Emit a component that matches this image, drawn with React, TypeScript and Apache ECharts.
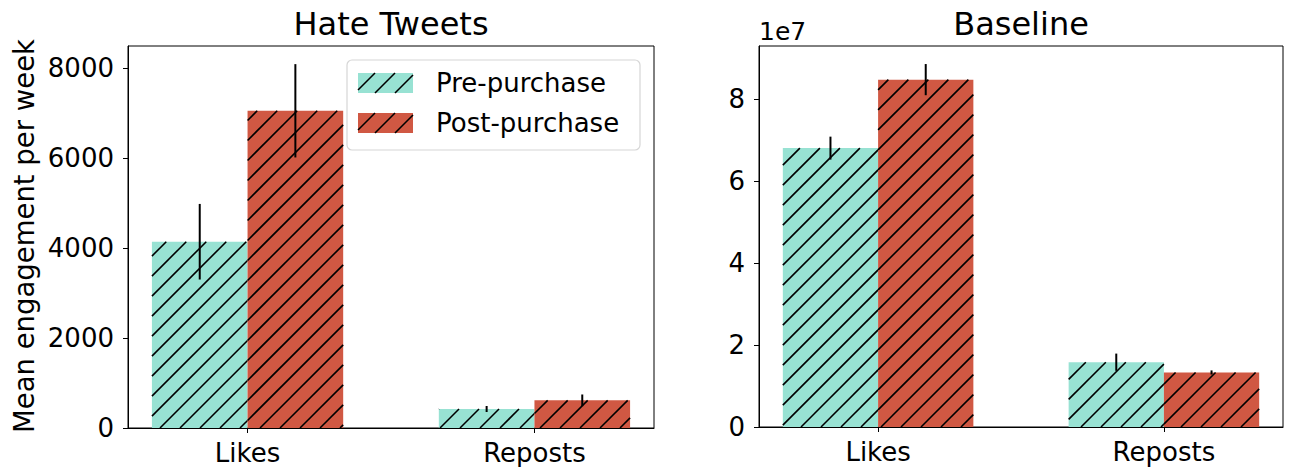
import React, { useEffect, useRef } from "react";
import * as echarts from "echarts";

// ---- data ----
const CATEGORIES = ["Likes", "Reposts"];
const GROUPS = ["Pre-purchase", "Post-purchase"];

const HATE_PRE = [4140, 422];
const HATE_PRE_ERR = [840, 67];
const HATE_POST = [7050, 615];
const HATE_POST_ERR = [1037, 130];

const BASE_PRE = [6.8e7, 1.58e7];
const BASE_PRE_ERR = [0.28e7, 0.21e7];
const BASE_POST = [8.47e7, 1.33e7];
const BASE_POST_ERR = [0.38e7, 0.05e7];

const HATE_TICKS = [0, 2000, 4000, 6000, 8000];
const BASE_TICKS = [0, 2e7, 4e7, 6e7, 8e7];

const PANEL_TITLES = ["Hate Tweets", "Baseline"];
const Y_LABEL = "Mean engagement per week";
const BASE_EXPONENT = "1e7";

// ---- style ----
const FONT = "DejaVu Sans";
const PRE_COLOR = "#98e2d3";
const POST_COLOR = "#d05843";
const BAR_W = 1 / 3;
const X_MIN = -0.4167;
const X_MAX = 1.4167;
const HATCH_STEP = 20;
const HATCH_PHASE = 8;

// diagonal "/" hatch lines clipped to a rectangle, anchored to the page
function hatch(L: number, T: number, R: number, B: number) {
  const out: any[] = [];
  const start = Math.ceil((L + T - HATCH_PHASE) / HATCH_STEP) * HATCH_STEP + HATCH_PHASE;
  for (let c = start; c <= R + B; c += HATCH_STEP) {
    const xa = Math.max(L, c - B);
    const xb = Math.min(R, c - T);
    if (xb > xa) {
      out.push({
        type: "line",
        shape: { x1: xa, y1: c - xa, x2: xb, y2: c - xb },
        style: { stroke: "#000", lineWidth: 1.6 },
      });
    }
  }
  return out;
}

function barSeries(
  name: string,
  idx: number,
  values: number[],
  errs: number[],
  offset: number,
  color: string
) {
  return {
    type: "custom",
    name,
    xAxisIndex: idx,
    yAxisIndex: idx,
    data: values.map((v, i) => [i, v, errs[i]]),
    encode: { x: 0, y: 1 },
    renderItem: (_params: any, api: any) => {
      const i = api.value(0);
      const v = api.value(1);
      const e = api.value(2);
      const x0 = i + offset;
      const a = api.coord([x0, 0]);
      const b = api.coord([x0 + BAR_W, v]);
      const L = a[0],
        R = b[0],
        T = b[1],
        B = a[1];
      const lo = api.coord([x0 + BAR_W / 2, v - e]);
      const hi = api.coord([x0 + BAR_W / 2, v + e]);
      return {
        type: "group",
        children: [
          {
            type: "rect",
            shape: { x: L, y: T, width: R - L, height: B - T },
            style: { fill: color },
          },
          ...hatch(L, T, R, B),
          {
            type: "line",
            shape: { x1: lo[0], y1: lo[1], x2: hi[0], y2: hi[1] },
            style: { stroke: "#000", lineWidth: 2 },
          },
        ],
      };
    },
  };
}

const GRIDS = [
  { left: 128, top: 46, width: 526, height: 382 },
  { left: 759, top: 46, width: 524, height: 381 },
];

const AXIS_LINE = { show: true, onZero: false, lineStyle: { color: "#000", width: 1 } };

function xAxis(idx: number) {
  return {
    type: "value",
    gridIndex: idx,
    min: X_MIN,
    max: X_MAX,
    splitLine: { show: false },
    axisLine: AXIS_LINE,
    axisTick: {
      show: true,
      customValues: [0, 1],
      length: 5,
      lineStyle: { color: "#000", width: 1 },
    },
    axisLabel: {
      customValues: [0, 1],
      formatter: (v: number) => CATEGORIES[Math.round(v)],
      fontFamily: FONT,
      fontSize: 26,
      color: "#000",
      margin: 12,
    },
  };
}

function yAxis(idx: number, max: number, ticks: number[], fmt: (v: number) => string) {
  return {
    type: "value",
    gridIndex: idx,
    min: 0,
    max,
    splitLine: { show: false },
    axisLine: AXIS_LINE,
    axisTick: {
      show: true,
      customValues: ticks,
      length: 5,
      lineStyle: { color: "#000", width: 1 },
    },
    axisLabel: {
      customValues: ticks,
      formatter: fmt,
      fontFamily: FONT,
      fontSize: 26,
      color: "#000",
      margin: 14,
    },
  };
}

function legendGraphics() {
  const items: any[] = [
    {
      type: "rect",
      shape: { x: 347, y: 60, width: 293, height: 90, r: 5 },
      style: { fill: "rgba(255,255,255,0.8)", stroke: "#d6d6d6", lineWidth: 1.2 },
    },
  ];
  const colors = [PRE_COLOR, POST_COLOR];
  GROUPS.forEach((g, k) => {
    const T = 73 + k * 40;
    items.push({
      type: "rect",
      shape: { x: 358, y: T, width: 55, height: 20 },
      style: { fill: colors[k] },
    });
    hatch(358, T, 413, T + 20).forEach((l) => items.push(l));
    items.push({
      type: "text",
      x: 436,
      y: T + 10,
      style: {
        text: g,
        fontFamily: FONT,
        fontSize: 26,
        fill: "#000",
        align: "left",
        verticalAlign: "middle",
      },
    });
  });
  return items;
}

export default function App() {
  const ref = useRef<HTMLDivElement>(null);

  useEffect(() => {
    if (!ref.current) return;
    const chart = echarts.init(ref.current, null, { renderer: "svg" });
    chart.setOption({
      animation: false,
      backgroundColor: "#fff",
      grid: GRIDS.map((g) => ({
        ...g,
        show: true,
        borderColor: "#000",
        borderWidth: 1,
        backgroundColor: "transparent",
        containLabel: false,
      })),
      xAxis: [xAxis(0), xAxis(1)],
      yAxis: [
        yAxis(0, 8490, HATE_TICKS, (v) => String(v)),
        yAxis(1, 9.29e7, BASE_TICKS, (v) => String(Math.round(v / 1e7))),
      ],
      series: [
        barSeries(GROUPS[0], 0, HATE_PRE, HATE_PRE_ERR, -BAR_W, PRE_COLOR),
        barSeries(GROUPS[1], 0, HATE_POST, HATE_POST_ERR, 0, POST_COLOR),
        barSeries(GROUPS[0], 1, BASE_PRE, BASE_PRE_ERR, -BAR_W, PRE_COLOR),
        barSeries(GROUPS[1], 1, BASE_POST, BASE_POST_ERR, 0, POST_COLOR),
      ],
      graphic: [
        {
          type: "text",
          x: 391,
          y: 24,
          style: {
            text: PANEL_TITLES[0],
            fontFamily: FONT,
            fontSize: 32,
            fill: "#000",
            align: "center",
            verticalAlign: "middle",
          },
        },
        {
          type: "text",
          x: 1021,
          y: 24,
          style: {
            text: PANEL_TITLES[1],
            fontFamily: FONT,
            fontSize: 32,
            fill: "#000",
            align: "center",
            verticalAlign: "middle",
          },
        },
        {
          type: "text",
          x: 759,
          y: 31,
          style: {
            text: BASE_EXPONENT,
            fontFamily: FONT,
            fontSize: 25,
            fill: "#000",
            align: "left",
            verticalAlign: "middle",
          },
        },
        {
          type: "text",
          x: 24,
          y: 236,
          rotation: Math.PI / 2,
          style: {
            text: Y_LABEL,
            fontFamily: FONT,
            fontSize: 27.5,
            fill: "#000",
            align: "center",
            verticalAlign: "middle",
          },
        },
        ...legendGraphics(),
      ],
    });
    return () => chart.dispose();
  }, []);

  return (
    <div
      ref={ref}
      style={{ position: "absolute", left: 0, top: 0, width: 1290, height: 467 }}
    />
  );
}
